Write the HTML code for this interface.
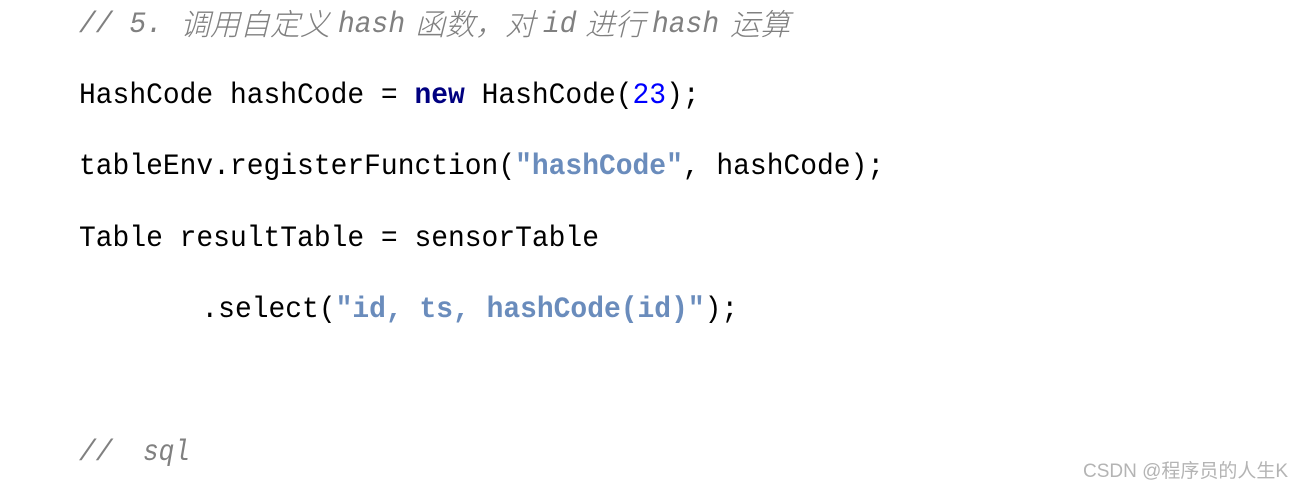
<!DOCTYPE html>
<html>
<head>
<meta charset="utf-8">
<style>
html,body{margin:0;padding:0;background:#fff;}
#p{position:relative;width:1303px;height:490px;overflow:hidden;background:#fff;}
.l,.c{position:absolute;white-space:pre;font-family:"Liberation Mono","Noto Sans CJK SC",monospace;font-size:30px;line-height:34px;color:#000;transform:scaleX(.9317);transform-origin:0 0;}
.c{color:#808080;font-style:italic;}
.k{font-size:30px;font-family:"Noto Sans CJK SC","WenQuanYi Zen Hei",sans-serif;font-weight:300;transform:none;}
.s{color:#6a8cbc;font-weight:bold;}
.n{color:#000080;font-weight:bold;}
.d{color:#0000ff;}
#w{position:absolute;left:1083px;top:460px;font-family:"Liberation Sans","Noto Sans CJK SC",sans-serif;font-size:19px;line-height:24px;color:#b4b4b4;white-space:pre;}
</style>
</head>
<body>
<div id="p">
<div class="c" style="left:79px;top:8px">// 5.</div>
<div class="c k" style="left:180px;top:5px">调用自定义</div>
<div class="c" style="left:338px;top:8px">hash</div>
<div class="c k" style="left:415px;top:5px">函数，对</div>
<div class="c" style="left:543px;top:8px">id</div>
<div class="c k" style="left:585px;top:5px">进行</div>
<div class="c" style="left:652px;top:8px">hash</div>
<div class="c k" style="left:730px;top:5px">运算</div>
<div class="l" style="left:79px;top:79px">HashCode hashCode = <span class="n">new</span> HashCode(<span class="d">23</span>);</div>
<div class="l" style="left:79px;top:150px">tableEnv.registerFunction(<span class="s">"hashCode"</span>, hashCode);</div>
<div class="l" style="left:79px;top:222px">Table resultTable = sensorTable</div>
<div class="l" style="left:83.5px;top:293px">       .select(<span class="s">"id, ts, hashCode(id)"</span>);</div>
<div class="c" style="left:79px;top:436px">//</div>
<div class="c" style="left:143px;top:436px;transform:scaleX(.87)">sql</div>
<div id="w">CSDN @程序员的人生K</div>
</div>
</body>
</html>
